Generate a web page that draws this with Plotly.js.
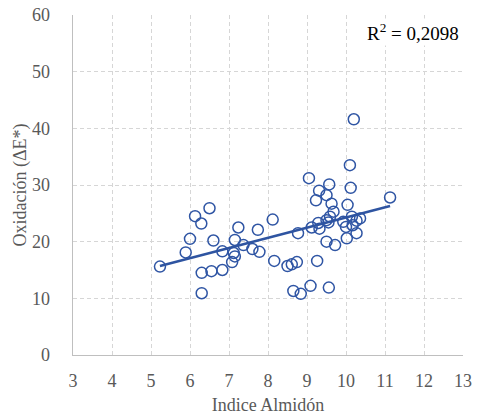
<!DOCTYPE html>
<html>
<head>
<meta charset="utf-8">
<script src="https://cdn.plot.ly/plotly-3.0.1.min.js"></script>
<style>html,body{margin:0;padding:0;background:#fff;}#chart{width:478px;height:419px;}</style>
</head>
<body>
<div id="chart"></div>
<script>
const indiceAlmidon = [5.23,5.89,6.0,6.13,6.29,6.5,6.3,6.3,6.55,6.6,6.83,6.83,7.08,7.15,7.12,7.15,7.24,7.37,7.6,7.74,7.78,8.12,8.16,8.5,8.61,8.74,8.65,8.84,8.77,9.05,9.09,9.12,9.26,9.23,9.31,9.29,9.32,9.5,9.57,9.56,9.5,9.63,9.68,9.59,9.5,9.55,9.72,9.93,10.0,10.04,10.02,10.15,10.17,10.27,10.36,10.27,10.12,10.1,10.2,11.13];
const oxidacion = [15.6,18.1,20.5,24.5,23.2,25.9,14.5,10.9,14.8,20.2,15.0,18.3,16.4,20.3,18.0,17.4,22.5,19.4,18.7,22.1,18.2,23.9,16.6,15.7,16.0,16.4,11.3,10.8,21.5,31.2,12.2,22.5,16.6,27.3,29.0,23.3,22.3,28.2,30.1,11.9,20.0,26.7,25.3,24.4,23.8,23.4,19.4,23.5,22.6,26.5,20.6,24.4,22.9,23.7,24.1,21.5,29.5,33.5,41.6,27.8];
const trendX = [5.23, 11.13];
const trendY = [15.7, 26.3];
const xTicks = [3,4,5,6,7,8,9,10,11,12,13];
const yTicks = [0,10,20,30,40,50,60];
const r2Label = 'R<sup>2</sup> = 0,2098';

const font = 'Liberation Serif, DejaVu Serif, serif';
const blue = '#2f55a4';
const grey = '#595959';

Plotly.newPlot('chart', [
  {x: indiceAlmidon, y: oxidacion, type: 'scatter', mode: 'markers',
   marker: {symbol: 'circle-open', size: 11, color: blue, line: {width: 1.5, color: blue}},
   hoverinfo: 'x+y', showlegend: false},
  {x: trendX, y: trendY, type: 'scatter', mode: 'lines',
   line: {color: '#2e54a1', width: 2.5}, showlegend: false}
], {
  width: 478, height: 419,
  margin: {l: 73, r: 15, t: 15, b: 64},
  paper_bgcolor: '#fff', plot_bgcolor: '#fff',
  font: {family: font, size: 18, color: grey},
  xaxis: {range: [3, 13], tickvals: xTicks, ticktext: xTicks.map(String),
    showgrid: true, gridcolor: '#d6d6d6', griddash: '4px,3px', gridwidth: 1,
    showline: true, linecolor: '#bfbfbf', linewidth: 1.3, zeroline: false, ticks: '',
    ticklabelstandoff: 9, tickfont: {family: font, size: 18, color: grey},
    title: {text: 'Indice Almidón', font: {family: font, size: 18, color: grey}, standoff: 8}},
  yaxis: {range: [0, 60], tickvals: yTicks, ticktext: yTicks.map(String),
    showgrid: true, gridcolor: '#d6d6d6', griddash: '4px,3px', gridwidth: 1,
    showline: true, linecolor: '#bfbfbf', linewidth: 1.3, zeroline: false, ticks: '',
    ticklabelstandoff: 18, tickfont: {family: font, size: 18, color: grey},
    title: {text: 'Oxidación (ΔE*)', font: {family: font, size: 18, color: grey}, standoff: 0}},
  annotations: [{text: r2Label, xref: 'paper', yref: 'paper', x: 0.995, y: 0.99,
    xanchor: 'right', yanchor: 'top', showarrow: false, bgcolor: '#fff',
    font: {family: font, size: 19, color: '#000'}}]
}, {displayModeBar: false, staticPlot: true});
</script>
</body>
</html>
